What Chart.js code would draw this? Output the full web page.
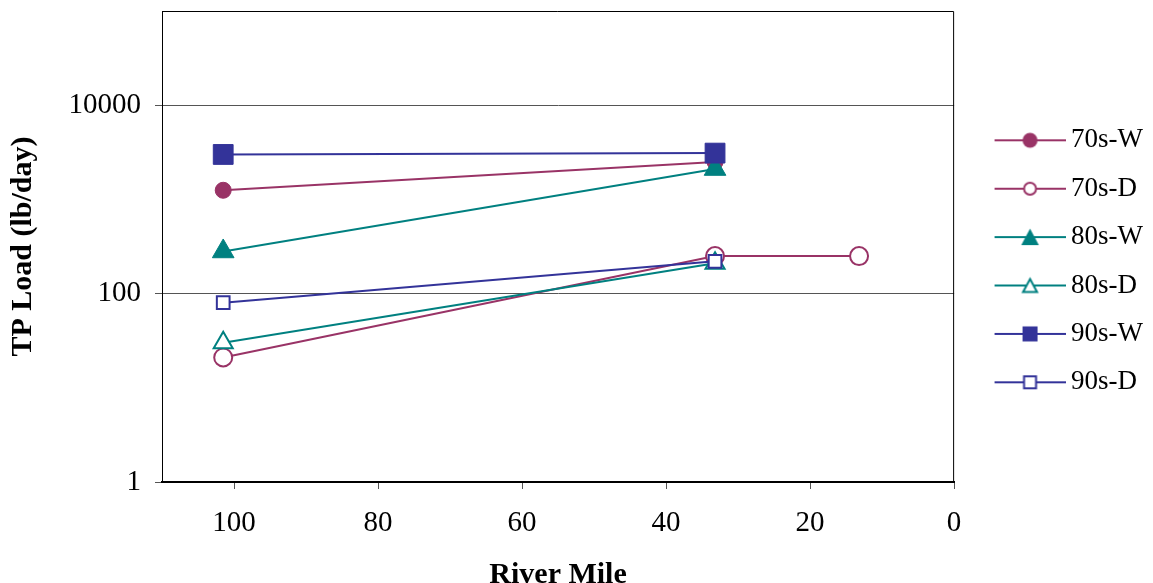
<!DOCTYPE html>
<html><head><meta charset="utf-8">
<script src="https://cdn.jsdelivr.net/npm/chart.js@4"></script>
<style>html,body{margin:0;padding:0;background:#fff}</style>
</head><body>
<canvas id="c" width="1153" height="583"></canvas>
<script>
// ---- data ----
const seriesNames = ['70s-W', '70s-D', '80s-W', '80s-D', '90s-W', '90s-D'];
const milesTwo = [101.5, 33.2];
const milesThree = [101.5, 33.2, 13.2];
const load70W = [1250, 2500];
const load70D = [21, 250, 250];
const load80W = [280, 2100];
const load80D = [30, 210];
const load90W = [3000, 3100];
const load90D = [80, 220];
const xTickValues = [0, 20, 40, 60, 80, 100];
const yTickValues = [1, 100, 10000];

// ---- styles ----
const C70 = '#993366', C80 = '#008080', C90 = '#333399';
const FAM = '"Liberation Serif", "Times New Roman", serif';

function pts(xs, ys) { return xs.map((x, i) => ({x: x, y: ys[i]})); }

function makeIcon(color, shape, filled) {
  const c = document.createElement('canvas');
  c.width = 98; c.height = 24;
  const g = c.getContext('2d');
  g.strokeStyle = color; g.lineWidth = 2;
  g.beginPath(); g.moveTo(27, 12); g.lineTo(98, 12); g.stroke();
  const cx = 62.5, cy = 12;
  g.fillStyle = filled ? color : '#fff';
  g.beginPath();
  if (shape === 'circle') {
    g.arc(cx, cy, filled ? 7.5 : 6, 0, Math.PI * 2);
  } else if (shape === 'triangle') {
    const hw = filled ? 8.8 : 7, top = filled ? 8.5 : 6.5, bot = filled ? 8 : 6.5;
    g.moveTo(cx, cy - top); g.lineTo(cx + hw, cy + bot); g.lineTo(cx - hw, cy + bot); g.closePath();
  } else {
    const h = filled ? 7.5 : 6;
    g.rect(cx - h, cy - h, 2 * h, 2 * h);
  }
  g.fill();
  if (!filled) { g.lineWidth = 2; g.stroke(); }
  return c;
}

const icons = [
  makeIcon(C70, 'circle', true), makeIcon(C70, 'circle', false),
  makeIcon(C80, 'triangle', true), makeIcon(C80, 'triangle', false),
  makeIcon(C90, 'rect', true), makeIcon(C90, 'rect', false)
];

function ds(i, data, color, style, filled, radius, order) {
  return {
    label: seriesNames[i], data: data,
    borderColor: color, borderWidth: 2, backgroundColor: color,
    pointStyle: style, pointRadius: radius, pointHoverRadius: radius,
    pointBackgroundColor: filled ? color : '#ffffff',
    pointBorderColor: color, pointBorderWidth: filled ? 1 : 2,
    showLine: true, tension: 0, order: order
  };
}

const framePlugin = {
  id: 'frame',
  beforeDatasetsDraw(chart) {
    const a = chart.chartArea, g = chart.ctx;
    g.save(); g.strokeStyle = '#000'; g.lineWidth = 1;
    g.beginPath();
    g.moveTo(a.left, a.top + 0.5); g.lineTo(a.right - 0.5, a.top + 0.5); g.lineTo(a.right - 0.5, a.bottom);
    g.stroke(); g.restore();
  }
};

new Chart(document.getElementById('c'), {
  type: 'scatter',
  data: {
    datasets: [
      ds(0, pts(milesTwo, load70W), C70, 'circle', true, 8, 6),
      ds(1, pts(milesThree, load70D), C70, 'circle', false, 9, 5),
      ds(2, pts(milesTwo, load80W), C80, 'triangle', true, 12.5, 4),
      ds(3, pts(milesTwo, load80D), C80, 'triangle', false, 11, 3),
      ds(4, pts(milesTwo, load90W), C90, 'rect', true, 14, 2),
      ds(5, pts(milesTwo, load90D), C90, 'rect', false, 9, 1)
    ]
  },
  plugins: [framePlugin],
  options: {
    responsive: false, animation: false,
    layout: {autoPadding: false, padding: {top: 11, right: 0, bottom: 0, left: 0}},
    plugins: {
      tooltip: {enabled: false},
      legend: {
        position: 'right', align: 'start',
        title: {display: true, text: '', padding: {top: 80, bottom: 0}, font: {size: 12, lineHeight: 1.2}},
        labels: {
          usePointStyle: true, pointStyleWidth: 82, padding: 21.4, color: '#000',
          font: {family: FAM, size: 27},
          sort: (a, b) => a.datasetIndex - b.datasetIndex,
          generateLabels(chart) {
            return chart.data.datasets.map((d, i) => ({
              text: d.label, pointStyle: icons[i], fillStyle: 'rgba(0,0,0,0)',
              strokeStyle: 'rgba(0,0,0,0)', lineWidth: 0, hidden: false,
              datasetIndex: i, fontColor: '#000'
            }));
          }
        }
      }
    },
    scales: {
      x: {
        type: 'linear', reverse: true, min: 0, max: 110,
        afterBuildTicks: s => { s.ticks = xTickValues.map(v => ({value: v})); },
        afterFit: s => { s.height = 101; s.paddingLeft = 0; s.paddingRight = 0; },
        grid: {drawOnChartArea: false, drawTicks: true, tickLength: 7, color: '#555'},
        border: {color: '#000', width: 2},
        ticks: {padding: 17, color: '#000', font: {family: FAM, size: 29}, maxRotation: 0, autoSkip: false},
        title: {display: true, text: 'River Mile', color: '#000',
          font: {family: FAM, size: 30, weight: 'bold', lineHeight: 0.5}, padding: 0}
      },
      y: {
        type: 'logarithmic', min: 1, max: 100000,
        afterBuildTicks: s => { s.ticks = yTickValues.map(v => ({value: v})); },
        afterFit: s => { s.width = 162; s.paddingTop = 0; s.paddingBottom = 0; },
        grid: {color: '#555', tickLength: 7},
        border: {color: '#000', width: 1},
        ticks: {padding: 14, color: '#000', font: {family: FAM, size: 29}, callback: v => String(v)},
        title: {display: true, text: 'TP Load (lb/day)', color: '#000',
          font: {family: FAM, size: 30, weight: 'bold', lineHeight: 1.2}, padding: {top: 5, bottom: 0}}
      }
    }
  }
});
</script>
</body></html>
